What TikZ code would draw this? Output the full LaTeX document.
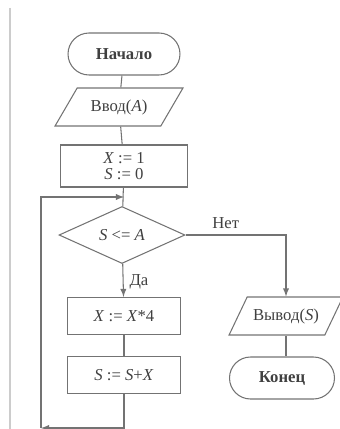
\documentclass[tikz,border=0pt]{standalone}
\usepackage{fontspec}
\setmainfont{Liberation Serif}
\usetikzlibrary{shapes.geometric}
\begin{document}
\begin{tikzpicture}[x=0.02cm,y=-0.02cm]
      \tikzstyle{every node}=[font=\fontsize{9.5}{11}\selectfont,text=black!75,draw=black!55,line width=0.6pt]
      \tikzstyle{term}=[rectangle,rounded corners=0.42cm,minimum width=2.24cm,minimum height=0.84cm]
      \tikzstyle{io}=[trapezium,trapezium left angle=56,trapezium right angle=124,trapezium stretches=true,minimum height=0.76cm]
      \tikzstyle{proc}=[rectangle,minimum width=2.26cm,minimum height=0.74cm,align=center]
      \tikzstyle{cond}=[diamond,minimum width=2.52cm,minimum height=1.12cm,inner sep=0pt]
      \tikzstyle{line}=[draw=black!55,line width=0.6pt]
      \useasboundingbox (0,0) rectangle (339,429);
      \draw[black!20,line width=0.8pt] (10,8) -- (10,429);

      \node[term] (start) at (124,54) {\textbf{Начало}};
      \node[io,minimum width=2.56cm] (input) at (119,107) {Ввод(\textit{A})};
      \node[proc,minimum width=2.54cm,minimum height=0.84cm] (init) at (124,166) {\textit{X} := 1\\[-2pt]\textit{S} := 0};
      \node[cond] (test) at (122,235) {\textit{S} <= \textit{A}};
      \node[proc] (mult) at (124,316) {\textit{X} := \textit{X}*4};
      \node[proc] (sum) at (124,375) {\textit{S} := \textit{S}+\textit{X}};
      \node[io,minimum width=2.16cm] (output) at (286,316) {Вывод(\textit{S})};
      \node[term,minimum width=2.1cm] (stop) at (282,378) {\textbf{Конец}};
      \coordinate (join) at (124,197);
      \coordinate (corner) at (41,428);

      \draw[line] (start) -- (input);
      \draw[line] (input) -- (init);
      \draw[line] (init) -- (test);
      \draw[line,-latex] (test) -- (mult) node[pos=0.55,right,draw=none] {Да};
      \draw[line] (mult) -- (sum);
      \draw[line,-latex] (sum) |- (corner);
      \draw[line,-latex] (corner) |- (join);
      \draw[line,-latex] (test.east) -| (output.north) node[pos=0.2,above,draw=none] {Нет};
      \draw[line] (output.south) -- (output.south |- stop.north);
    \end{tikzpicture}
\end{document}
